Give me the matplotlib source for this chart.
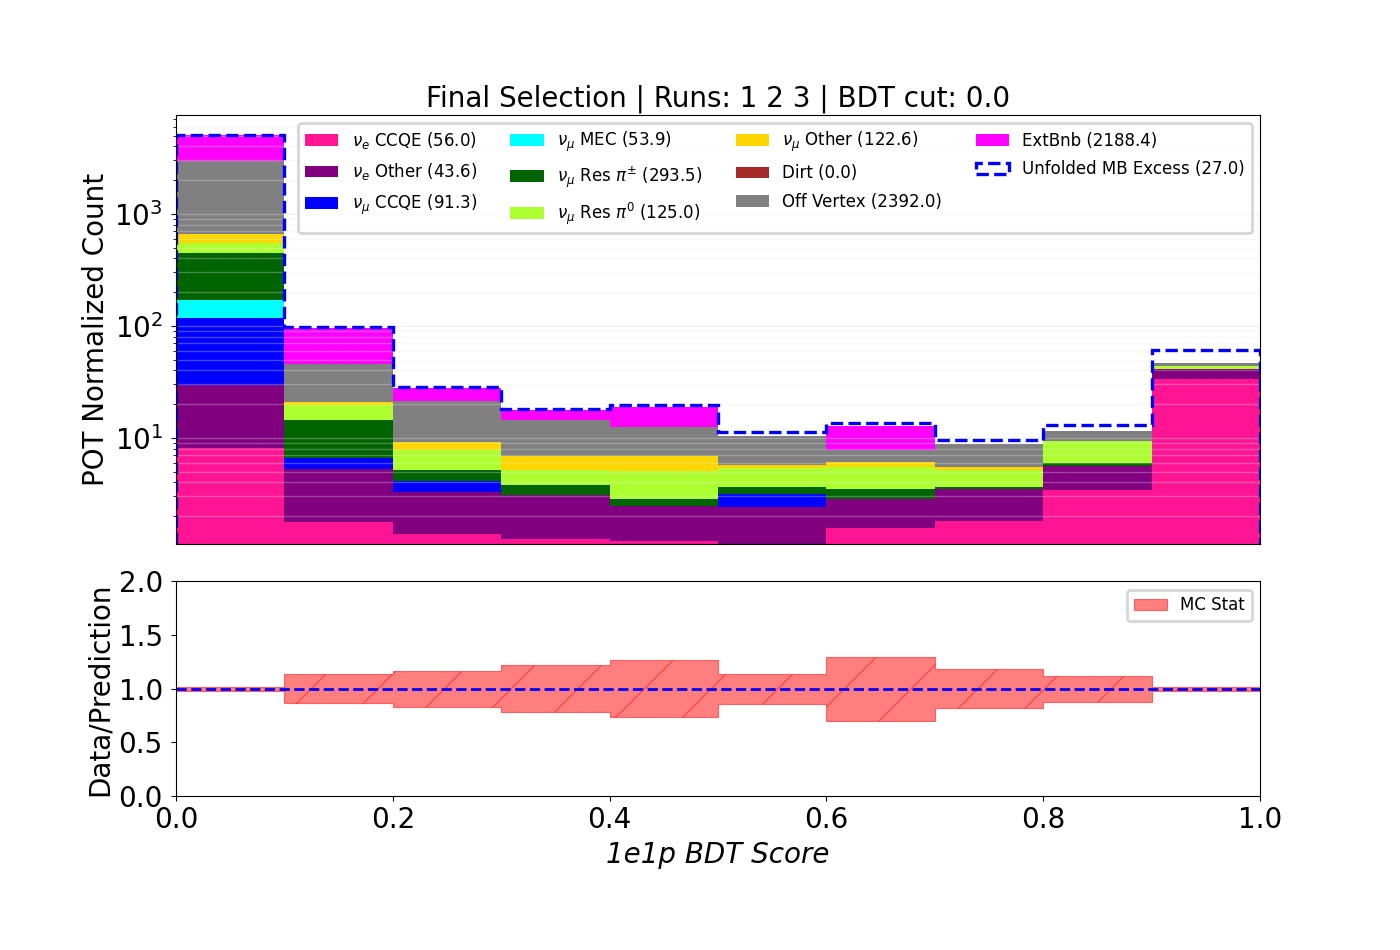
import numpy as np
import matplotlib
matplotlib.use('Agg')
import matplotlib.pyplot as plt

# bin edges of the BDT score
bin_edges = [0.0, 0.1, 0.2, 0.3, 0.4, 0.5, 0.6, 0.7, 0.8, 0.9, 1.0]

# POT normalized counts per bin, one list per sample
nue_ccqe = [8.2, 1.79, 1.40, 1.25, 1.21, 0.9, 1.58, 1.83, 3.45, 33.8]
nue_other = [21.5, 3.5, 1.92, 1.83, 1.28, 1.54, 1.27, 1.65, 2.21, 7.5]
numu_ccqe = [88.9, 1.38, 0.81, 0.0, 0.0, 0.74, 0.0, 0.0, 0.0, 0.0]
numu_mec = [52.0, 0.0, 0.0, 0.0, 0.0, 0.0, 0.0, 0.0, 0.0, 0.0]
numu_res_pipm = [280.0, 7.8, 1.05, 0.72, 0.36, 0.47, 0.66, 0.19, 0.32, 0.1]
numu_res_pi0 = [96.0, 5.1, 2.69, 1.38, 2.22, 1.78, 2.04, 1.54, 3.37, 2.6]
numu_other = [115.0, 1.36, 1.34, 1.72, 1.83, 0.31, 0.56, 0.30, 0.12, 0.0]
dirt = [0.0, 0.0, 0.0, 0.0, 0.0, 0.0, 0.0, 0.0, 0.0, 0.0]
off_vertex = [2311.0, 24.8, 12.2, 7.6, 5.6, 4.76, 1.76, 3.38, 2.08, 2.9]
ext_bnb = [2097.0, 49.5, 6.7, 3.1, 6.4, 0.0, 4.9, 0.0, 0.0, 0.0]
mb_excess = [6.0, 1.7, 0.6, 0.4, 0.7, 0.75, 0.7, 0.7, 1.43, 13.9]

# relative MC stat error per bin (ratio panel)
mc_stat_err = [0.02, 0.135, 0.17, 0.22, 0.265, 0.14, 0.30, 0.18, 0.12, 0.02]

labels = [r'$\nu_e$ CCQE (56.0)', r'$\nu_e$ Other (43.6)', r'$\nu_\mu$ CCQE (91.3)',
          r'$\nu_\mu$ MEC (53.9)', r'$\nu_\mu$ Res $\pi^{\pm}$ (293.5)', r'$\nu_\mu$ Res $\pi^0$ (125.0)',
          r'$\nu_\mu$ Other (122.6)', 'Dirt (0.0)', 'Off Vertex (2392.0)', 'ExtBnb (2188.4)']
colors = ['deeppink', 'purple', 'blue', 'cyan', 'darkgreen', 'greenyellow',
          'gold', 'brown', 'gray', 'magenta']
excess_label = 'Unfolded MB Excess (27.0)'

plt.rcParams['axes.linewidth'] = 0.4
plt.rcParams['xtick.major.size'] = 1.75
plt.rcParams['ytick.major.size'] = 1.75
plt.rcParams['xtick.minor.size'] = 1.0
plt.rcParams['ytick.minor.size'] = 1.0
plt.rcParams['xtick.major.width'] = 0.4
plt.rcParams['ytick.major.width'] = 0.4
plt.rcParams['ytick.minor.width'] = 0.3
plt.rcParams['xtick.major.pad'] = 1.7
plt.rcParams['ytick.major.pad'] = 3
plt.rcParams['hatch.linewidth'] = 0.4
plt.rcParams['legend.fontsize'] = 6.0

edges = np.array(bin_edges)
centers = 0.5 * (edges[1:] + edges[:-1])
samples = [nue_ccqe, nue_other, numu_ccqe, numu_mec, numu_res_pipm, numu_res_pi0,
           numu_other, dirt, off_vertex, ext_bnb]

fig = plt.figure(figsize=(7, 4.75), dpi=200)
ax1 = fig.add_axes([0.1257, 0.4274, 0.7743, 0.4516])
ax2 = fig.add_axes([0.1257, 0.1621, 0.7743, 0.2258])

ax1.hist([centers] * len(samples), bins=edges, weights=samples, stacked=True,
         color=colors, label=labels, histtype='bar', log=True)
total = np.sum(np.array(samples), axis=0) + np.array(mb_excess)
ax1.hist(centers, bins=edges, weights=total, histtype='step', color='blue',
         linestyle='--', linewidth=1.2, label=excess_label)
ax1.set_yscale('log')
ax1.set_xlim(0, 1)
ax1.set_ylim(1.13, 7650)
ax1.grid(True, which='major', axis='y', color='#d8d8d8', linewidth=0.5, alpha=0.35)
ax1.grid(True, which='minor', axis='y', color='#e8e8e8', linewidth=0.5, alpha=0.3)
ax1.tick_params(axis='x', bottom=False, labelbottom=False)
ax1.set_ylabel('POT Normalized Count', fontsize=10, labelpad=1.5)
ax1.set_title('Final Selection | Runs: 1 2 3 | BDT cut: 0.0', fontsize=10, pad=3)
ax1.legend(loc='upper right', ncol=4, labelspacing=0.62)

ax2.fill_between(edges, 1 - np.append(mc_stat_err, mc_stat_err[-1]),
                 1 + np.append(mc_stat_err, mc_stat_err[-1]), step='post',
                 color='red', alpha=0.5, hatch='/', linewidth=0.4, label='MC Stat')
ax2.axhline(1.0, color='blue', linestyle='--', linewidth=1.0)
ax2.set_xlim(0, 1)
ax2.set_ylim(0, 2)
ax2.set_xticks([0.0, 0.2, 0.4, 0.6, 0.8, 1.0])
ax2.set_yticks([0.0, 0.5, 1.0, 1.5, 2.0])
ax2.set_ylabel('Data/Prediction', fontsize=10, labelpad=1.5)
ax2.set_xlabel('1e1p BDT Score', fontsize=10, style='italic', labelpad=2.8)
ax2.legend(loc='upper right')

fig.savefig('out.png', dpi=200)
